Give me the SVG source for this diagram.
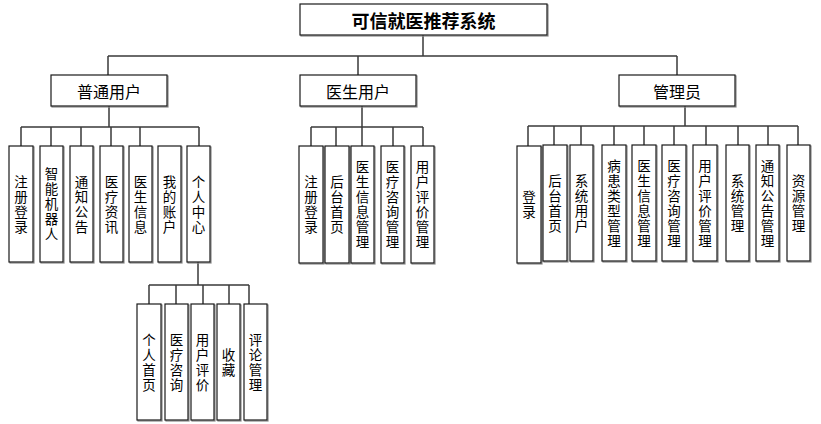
<svg xmlns="http://www.w3.org/2000/svg" width="821" height="424" viewBox="0 0 821 424">
<style>
.bx{fill:#fff;stroke:#1a1a1a;stroke-width:1.2}
.sh{fill:none;stroke:#8a8a8a;stroke-width:1.2}
.ln{fill:none;stroke:#3a3a3a;stroke-width:1.5}
text{font-family:"Noto Sans CJK SC","Noto Sans",sans-serif;fill:#000;text-anchor:middle}
.t{font-size:18px;font-weight:bold;dominant-baseline:central}
.l2{font-size:16px;dominant-baseline:central}
.v{font-size:13.5px;writing-mode:vertical-rl;text-orientation:upright;letter-spacing:1.5px}
</style>
<rect width="821" height="424" fill="#fff"/>
<g id="connectors" class="ln">
<path d="M423 35V56M108 56H677M108 56V75M358 56V75M677 56V75"/>
<path d="M109 106V127M21 127H199M21 127V146M51 127V146M81 127V146M111 127V146M140 127V146M199 127V146"/>
<path d="M198 262V285M149 285H249M149 285V304M176 285V304M203 285V304M229 285V304M249 285V304"/>
<path d="M362 106V127M311 127H423M311 127V146M336 127V146M362 127V146M393 127V146M423 127V146"/>
<path d="M685 106V126M528 126H798M528 126V146M554 126V145M581 126V145M614 126V145M644 126V145M674 126V145M706 126V145M738 126V145M768 126V145M798 126V145"/>
</g>
<g id="root"><rect class="sh" x="301" y="5" width="247" height="31"/><rect class="bx" x="300" y="4" width="247" height="31"/><text class="t" x="423.5" y="20">可信就医推荐系统</text></g>
<g id="n-user"><rect class="sh" x="52" y="76" width="116" height="31"/><rect class="bx" x="51" y="75" width="116" height="31"/><text class="l2" x="109" y="90.5">普通用户</text></g>
<g id="n-doctor"><rect class="sh" x="301" y="76" width="116" height="31"/><rect class="bx" x="300" y="75" width="116" height="31"/><text class="l2" x="358" y="90.5">医生用户</text></g>
<g id="n-admin"><rect class="sh" x="620" y="76" width="116" height="31"/><rect class="bx" x="619" y="75" width="116" height="31"/><text class="l2" x="677" y="90.5">管理员</text></g>

<g id="u1"><rect class="sh" x="10" y="147" width="24" height="116"/><rect class="bx" x="9" y="146" width="24" height="116"/><text class="v" x="21" y="204.8">注册登录</text></g>
<g id="u2"><rect class="sh" x="41" y="147" width="23" height="116"/><rect class="bx" x="40" y="146" width="23" height="116"/><text class="v" x="51.5" y="204.8">智能机器人</text></g>
<g id="u3"><rect class="sh" x="71" y="147" width="23" height="116"/><rect class="bx" x="70" y="146" width="23" height="116"/><text class="v" x="81.5" y="204.8">通知公告</text></g>
<g id="u4"><rect class="sh" x="101" y="147" width="23" height="116"/><rect class="bx" x="100" y="146" width="23" height="116"/><text class="v" x="111.5" y="204.8">医疗资讯</text></g>
<g id="u5"><rect class="sh" x="130" y="147" width="23" height="116"/><rect class="bx" x="129" y="146" width="23" height="116"/><text class="v" x="140.5" y="204.8">医生信息</text></g>
<g id="u6"><rect class="sh" x="159" y="147" width="23" height="116"/><rect class="bx" x="158" y="146" width="23" height="116"/><text class="v" x="169.5" y="204.8">我的账户</text></g>
<g id="u7"><rect class="sh" x="188" y="147" width="23" height="116"/><rect class="bx" x="187" y="146" width="23" height="116"/><text class="v" x="198.5" y="204.8">个人中心</text></g>

<g id="p1"><rect class="sh" x="138" y="305" width="24" height="116"/><rect class="bx" x="137" y="304" width="24" height="116"/><text class="v" x="149" y="362.8">个人首页</text></g>
<g id="p2"><rect class="sh" x="166" y="305" width="23" height="116"/><rect class="bx" x="165" y="304" width="23" height="116"/><text class="v" x="176.5" y="362.8">医疗咨询</text></g>
<g id="p3"><rect class="sh" x="192" y="305" width="23" height="116"/><rect class="bx" x="191" y="304" width="23" height="116"/><text class="v" x="202.5" y="362.8">用户评价</text></g>
<g id="p4"><rect class="sh" x="218" y="305" width="23" height="116"/><rect class="bx" x="217" y="304" width="23" height="116"/><text class="v" x="228.5" y="362.8">收藏</text></g>
<g id="p5"><rect class="sh" x="245" y="305" width="23" height="116"/><rect class="bx" x="244" y="304" width="23" height="116"/><text class="v" x="255.5" y="362.8">评论管理</text></g>

<g id="d1"><rect class="sh" x="300" y="147" width="24" height="117"/><rect class="bx" x="299" y="146" width="24" height="117"/><text class="v" x="311" y="205.3">注册登录</text></g>
<g id="d2"><rect class="sh" x="326" y="147" width="24" height="117"/><rect class="bx" x="325" y="146" width="24" height="117"/><text class="v" x="337" y="205.3">后台首页</text></g>
<g id="d3"><rect class="sh" x="352" y="147" width="23" height="117"/><rect class="bx" x="351" y="146" width="23" height="117"/><text class="v" x="362.5" y="205.3">医生信息管理</text></g>
<g id="d4"><rect class="sh" x="382" y="147" width="23" height="117"/><rect class="bx" x="381" y="146" width="23" height="117"/><text class="v" x="392.5" y="205.3">医疗咨询管理</text></g>
<g id="d5"><rect class="sh" x="412" y="147" width="23" height="117"/><rect class="bx" x="411" y="146" width="23" height="117"/><text class="v" x="422.5" y="205.3">用户评价管理</text></g>

<g id="a1"><rect class="sh" x="518" y="147" width="24" height="117"/><rect class="bx" x="517" y="146" width="24" height="117"/><text class="v" x="529" y="205.3">登录</text></g>
<g id="a2"><rect class="sh" x="544" y="146" width="24" height="116"/><rect class="bx" x="543" y="145" width="24" height="116"/><text class="v" x="555" y="203.8">后台首页</text></g>
<g id="a3"><rect class="sh" x="571" y="146" width="23" height="116"/><rect class="bx" x="570" y="145" width="23" height="116"/><text class="v" x="581.5" y="203.8">系统用户</text></g>
<g id="a4"><rect class="sh" x="603" y="146" width="24" height="116"/><rect class="bx" x="602" y="145" width="24" height="116"/><text class="v" x="614" y="203.8">病患类型管理</text></g>
<g id="a5"><rect class="sh" x="633" y="146" width="24" height="116"/><rect class="bx" x="632" y="145" width="24" height="116"/><text class="v" x="644" y="203.8">医生信息管理</text></g>
<g id="a6"><rect class="sh" x="663" y="146" width="24" height="116"/><rect class="bx" x="662" y="145" width="24" height="116"/><text class="v" x="674" y="203.8">医疗咨询管理</text></g>
<g id="a7"><rect class="sh" x="694" y="146" width="24" height="116"/><rect class="bx" x="693" y="145" width="24" height="116"/><text class="v" x="705" y="203.8">用户评价管理</text></g>
<g id="a8"><rect class="sh" x="727" y="146" width="23" height="116"/><rect class="bx" x="726" y="145" width="23" height="116"/><text class="v" x="737.5" y="203.8">系统管理</text></g>
<g id="a9"><rect class="sh" x="757" y="146" width="23" height="116"/><rect class="bx" x="756" y="145" width="23" height="116"/><text class="v" x="767.5" y="203.8">通知公告管理</text></g>
<g id="a10"><rect class="sh" x="788" y="146" width="23" height="116"/><rect class="bx" x="787" y="145" width="23" height="116"/><text class="v" x="798.5" y="203.8">资源管理</text></g>
</svg>
